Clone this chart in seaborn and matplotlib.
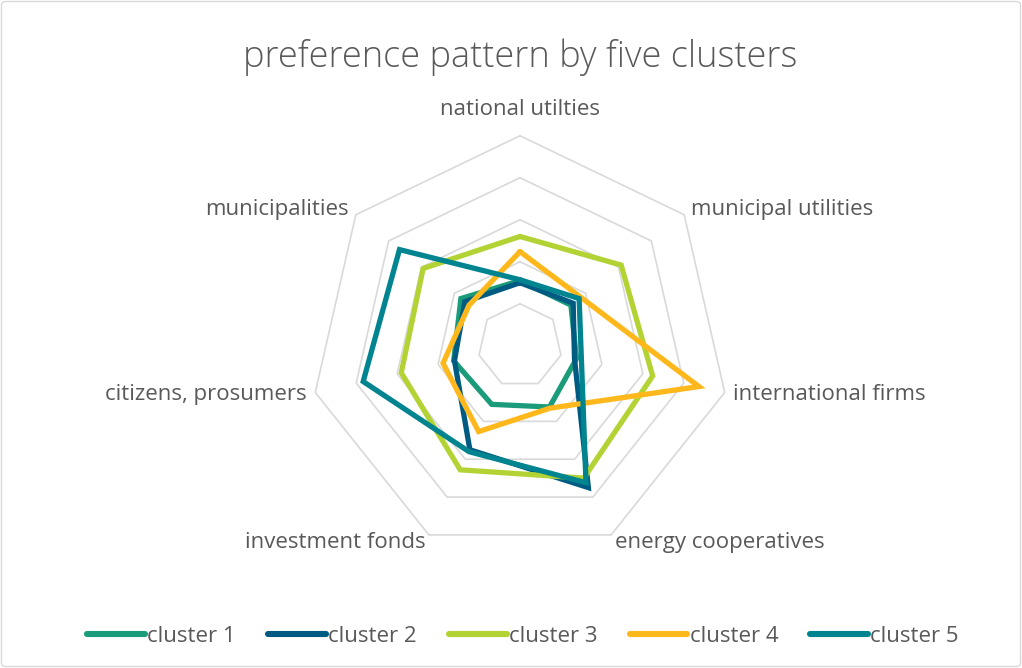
import numpy as np
import pandas as pd
import matplotlib
matplotlib.use("Agg")
import matplotlib.pyplot as plt
import seaborn as sns
from matplotlib.lines import Line2D
from matplotlib.patches import FancyBboxPatch

# --- data -------------------------------------------------------------
categories = ["national utilties", "municipal utilities", "international firms",
              "energy cooperatives", "investment fonds", "citizens, prosumers",
              "municipalities"]
cluster_names = ["cluster 1", "cluster 2", "cluster 3", "cluster 4", "cluster 5"]

cluster_1 = [1.55, 1.55, 1.38, 1.62, 1.55, 1.62, 1.80]
cluster_2 = [1.50, 1.62, 1.33, 3.75, 2.75, 1.60, 1.68]
cluster_3 = [2.60, 3.08, 3.24, 3.50, 3.28, 2.90, 2.95]
cluster_4 = [2.24, 1.85, 4.37, 1.65, 2.27, 1.88, 1.55]
cluster_5 = [1.57, 1.80, 1.50, 3.62, 2.80, 3.83, 3.67]
series = [cluster_1, cluster_2, cluster_3, cluster_4, cluster_5]

ring_levels = [1, 2, 3, 4, 5]
colors = ["#1a9c7b", "#005b82", "#b3d334", "#ffb81c", "#00848f"]
text_color = "#595959"
grid_color = "#d9d9d9"

# --- styling ----------------------------------------------------------
sns.set_theme(style="white")
plt.rcParams["font.family"] = ["Open Sans", "DejaVu Sans"]

W, H = 1022, 668
fig = plt.figure(figsize=(W / 100, H / 100), dpi=100)

cx, cy, R = 520, 345.7, 210  # radar centre and outer radius in pixels
ax = fig.add_axes([(cx - R) / W, (H - cy - R) / H, 2 * R / W, 2 * R / H],
                  projection="polar")
ax.set_theta_zero_location("N")
ax.set_theta_direction(-1)
ax.set_ylim(0, ring_levels[-1])
ax.set_axis_off()

n = len(categories)
angles = np.linspace(0, 2 * np.pi, n, endpoint=False)
closed = np.append(angles, 2 * np.pi)

# heptagonal grid rings
for lvl in ring_levels:
    ax.plot(closed, [lvl] * (n + 1), color=grid_color, lw=1.2,
            zorder=1, clip_on=False)

# long-form table for seaborn, closing each polygon
rows = []
for name, vals in zip(cluster_names, series):
    for i in range(n + 1):
        rows.append({"cluster": name, "angle": closed[i],
                     "value": vals[i % n], "order": i})
df = pd.DataFrame(rows)

sns.lineplot(data=df, x="angle", y="value", hue="cluster",
             palette=dict(zip(cluster_names, colors)), sort=False,
             estimator=None, lw=3.8, ax=ax, legend=False,
             solid_joinstyle="miter", clip_on=False, zorder=3)

# category labels around the outside
label_size = 16
for ang, lab in zip(angles, categories):
    s = np.sin(ang)
    if abs(s) < 1e-6:
        ax.text(ang, 5.62, lab, ha="center", va="center",
                fontsize=label_size, color=text_color)
    else:
        ax.text(ang, 5.2, lab, ha="left" if s > 0 else "right",
                va="center", fontsize=label_size, color=text_color)

# title
fig.text(520 / W, 1 - 57 / H, "preference pattern by five clusters",
         ha="center", va="center", fontsize=26, color=text_color,
         fontweight="light")

# legend
handles = [Line2D([0], [0], color=c, lw=4.4, solid_capstyle="round")
           for c in colors]
leg = fig.legend(handles, cluster_names, loc="center",
                 bbox_to_anchor=(523 / W, 1 - 636 / H), ncol=5, frameon=False,
                 fontsize=label_size, handlelength=2.6, handletextpad=0.1,
                 columnspacing=1.45)
for t in leg.get_texts():
    t.set_color(text_color)

# chart frame
fig.patches.append(FancyBboxPatch((1.5 / W, 1.5 / H), (W - 3) / W, (H - 3) / H,
                                  boxstyle="round,pad=0,rounding_size=0.005",
                                  transform=fig.transFigure, fill=False,
                                  edgecolor=grid_color, lw=1))

fig.savefig("out.png", dpi=100)
